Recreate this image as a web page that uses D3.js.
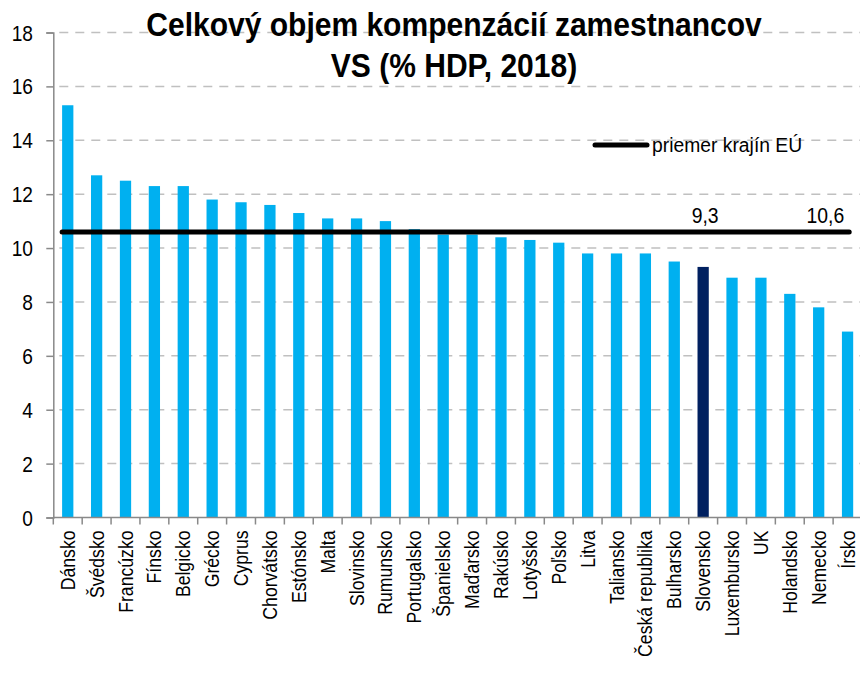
<!DOCTYPE html>
<html>
<head>
<meta charset="utf-8">
<script src="https://cdn.jsdelivr.net/npm/d3@7"></script>
<style>
body{margin:0;background:#fff;}
text{font-family:"Liberation Sans",Arial,sans-serif;}
</style>
</head>
<body>
<script>
// data
var countries=["Dánsko","Švédsko","Francúzko","Fínsko","Belgicko","Grécko","Cyprus","Chorvátsko","Estónsko","Malta","Slovinsko","Rumunsko","Portugalsko","Španielsko","Maďarsko","Rakúsko","Lotyšsko","Poľsko","Litva","Taliansko","Česká republika","Bulharsko","Slovensko","Luxembursko","UK","Holandsko","Nemecko","Írsko"];
var values=[15.3,12.7,12.5,12.3,12.3,11.8,11.7,11.6,11.3,11.1,11.1,11.0,10.7,10.5,10.5,10.4,10.3,10.2,9.8,9.8,9.8,9.5,9.3,8.9,8.9,8.3,7.8,6.9];
var euAvg=10.6;
var skLabel="9,3", euLabel="10,6";
var yTicks=[0,2,4,6,8,10,12,14,16,18];
var titleLines=["Celkový objem kompenzácií zamestnancov","VS (% HDP, 2018)"];
var legendText="priemer krajín EÚ";

var W=860,H=673;
var pLeft=53.3,pRight=862,pTop=32.5,pBottom=517.5;
var sq=0.85; // text looks horizontally squeezed in the original

var svg=d3.select('body').append('svg').attr('width',W).attr('height',H);

var x=d3.scaleBand().domain(countries).range([pLeft,pRight]).paddingInner(0.61).paddingOuter(0.305);
var y=d3.scaleLinear().domain([0,18]).range([pBottom,pTop]);
var step=x.step();

// gridlines
svg.append('g').selectAll('line').data(yTicks.filter(d=>d>0)).enter().append('line')
  .attr('x1',pLeft+6).attr('x2',pRight)
  .attr('y1',d=>y(d)).attr('y2',d=>y(d))
  .attr('stroke','#c0c0c0').attr('stroke-width',1.5).attr('stroke-dasharray','9,7');

// bars
svg.append('g').selectAll('rect').data(values).enter().append('rect')
  .attr('x',(d,i)=>x(countries[i]))
  .attr('width',x.bandwidth())
  .attr('y',d=>y(d))
  .attr('height',d=>y(0)-y(d))
  .attr('fill',(d,i)=>countries[i]=="Slovensko"?'#002060':'#00b0f0');

// y axis
var yAxis=d3.axisLeft(y).tickValues(yTicks).tickSize(7).tickFormat('');
var gy=svg.append('g').attr('transform','translate('+pLeft+',0)').call(yAxis);
gy.select('.domain').attr('stroke','#898989').attr('stroke-width',1.5);
gy.selectAll('.tick line').attr('stroke','#898989').attr('stroke-width',1.5);
svg.append('g').selectAll('text').data(yTicks).enter().append('text')
  .text(d=>d)
  .attr('transform',d=>'translate(33,'+(y(d)+8)+') scale('+sq+',1)')
  .attr('text-anchor','end')
  .attr('font-size','22.5px');

// x axis line + ticks at band boundaries
svg.append('line').attr('x1',pLeft).attr('x2',pRight).attr('y1',pBottom).attr('y2',pBottom)
  .attr('stroke','#898989').attr('stroke-width',1.5);
svg.append('g').selectAll('line').data(d3.range(countries.length+1)).enter().append('line')
  .attr('x1',i=>pLeft+i*step).attr('x2',i=>pLeft+i*step)
  .attr('y1',pBottom).attr('y2',pBottom+7)
  .attr('stroke','#898989').attr('stroke-width',1.5);

// x labels
svg.append('g').selectAll('text').data(countries).enter().append('text')
  .text(d=>d)
  .attr('transform',d=>'translate('+(x(d)+x.bandwidth()/2+7)+','+(pBottom+13)+') rotate(-90) scale(0.84,1)')
  .attr('text-anchor','end')
  .attr('font-size','21px')
  .attr('fill','#000');

// EU average line
var xs=x(countries[0]), xe=x(countries[countries.length-1])+x.bandwidth()-4;
svg.append('line').attr('x1',xs).attr('x2',xe)
  .attr('y1',y(euAvg)).attr('y2',y(euAvg))
  .attr('stroke','#000').attr('stroke-width',5).attr('stroke-linecap','round');

// value labels
svg.append('text').text(skLabel)
  .attr('transform','translate('+(x('Slovensko')+x.bandwidth()/2+2)+','+(y(euAvg)-9)+') scale(0.88,1)')
  .attr('text-anchor','middle').attr('font-size','22px');
svg.append('text').text(euLabel)
  .attr('transform','translate('+(xe-5)+','+(y(euAvg)-9)+') scale(0.88,1)')
  .attr('text-anchor','end').attr('font-size','22px');

// legend
svg.append('line').attr('x1',595).attr('x2',647).attr('y1',145).attr('y2',145)
  .attr('stroke','#000').attr('stroke-width',5).attr('stroke-linecap','round');
svg.append('text').text(legendText)
  .attr('transform','translate(652,152) scale(0.92,1)')
  .attr('font-size','21px');

// title
svg.append('g').selectAll('text').data(titleLines).enter().append('text')
  .text(d=>d)
  .attr('transform',(d,i)=>'translate(454,'+(36+i*41)+') scale(0.91,1)')
  .attr('text-anchor','middle')
  .attr('font-size','33px')
  .attr('font-weight','bold');
</script>
</body>
</html>
